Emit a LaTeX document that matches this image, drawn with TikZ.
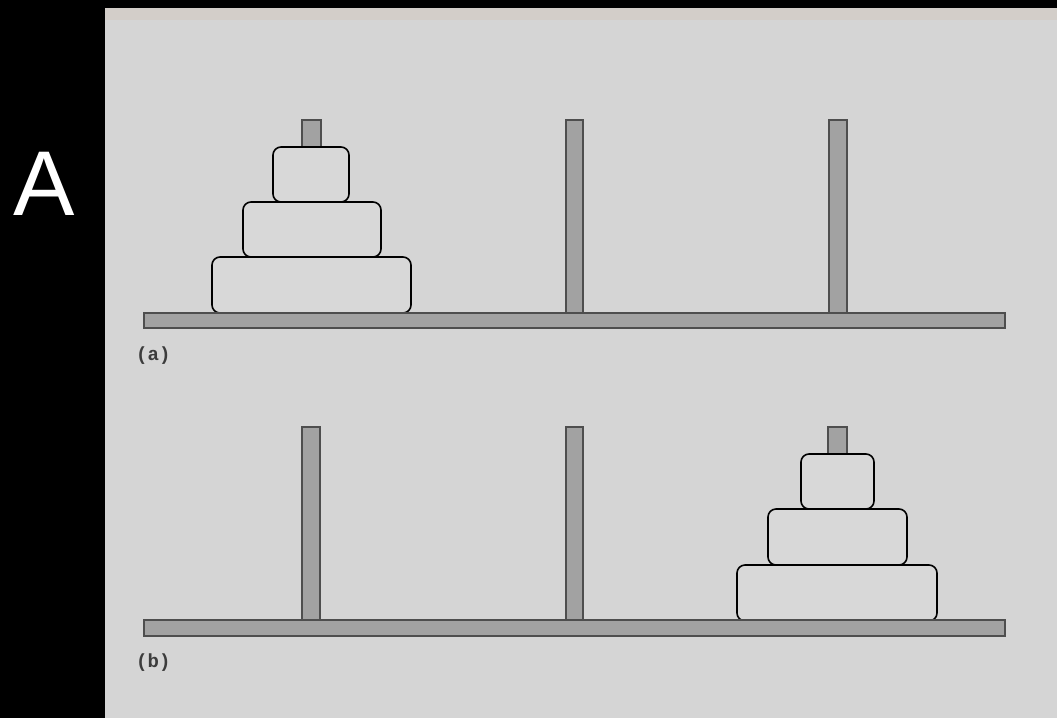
\documentclass[tikz,border=0pt]{standalone}
\usepackage{fontspec}
\newfontfamily\labelfont{Liberation Sans}
\newfontfamily\tagfont{Liberation Mono}
\definecolor{panelbg}{HTML}{D5D5D5}
\definecolor{pegfill}{HTML}{A2A2A2}
\definecolor{pegline}{HTML}{4E4E4E}
\definecolor{diskfill}{HTML}{D8D8D8}
\definecolor{tagcol}{HTML}{3C3C3C}
\tikzset{
  pegbar/.style={fill=pegfill, draw=pegline, line width=1.4pt},
  basebar/.style={fill=pegfill, draw=pegline, line width=1.4pt},
  disk/.style={fill=diskfill, draw=black, line width=1.6pt, rounded corners=8pt},
  tag/.style={font=\tagfont\bfseries\fontsize{19}{19}\selectfont, text=tagcol, anchor=west, inner sep=0pt},
}
\begin{document}
\begin{tikzpicture}[x=1pt,y=-1pt]
\useasboundingbox (0,0) rectangle (1057,718);
\fill[black] (0,0) rectangle (1057,718);
\fill[panelbg] (105,8) rectangle (1057,718);
\fill[panelbg!92!brown] (105,8) rectangle (1057,20);
\node[text=white, font=\labelfont\fontsize{92}{92}\selectfont, inner sep=0pt, anchor=base] (bigA) at (44,215) {A};

% panel (a)
\draw[pegbar] (302,120) rectangle (321,313);
\draw[pegbar] (566,120) rectangle (583,313);
\draw[pegbar] (829,120) rectangle (847,313);
\draw[disk] (212,257) rectangle (411,313);
\draw[disk] (243,202) rectangle (381,257);
\draw[disk] (273,147) rectangle (349,202);
\draw[basebar] (144,313) rectangle (1005,328);
\node[tag] (taga) at (136,356) {(a)};

% panel (b)
\draw[pegbar] (302,427) rectangle (320,620);
\draw[pegbar] (566,427) rectangle (583,620);
\draw[pegbar] (828,427) rectangle (847,620);
\draw[disk] (737,565) rectangle (937,621);
\draw[disk] (768,509) rectangle (907,565);
\draw[disk] (801,454) rectangle (874,509);
\draw[basebar] (144,620) rectangle (1005,636);
\node[tag] (tagb) at (136,663) {(b)};
\end{tikzpicture}
\end{document}
